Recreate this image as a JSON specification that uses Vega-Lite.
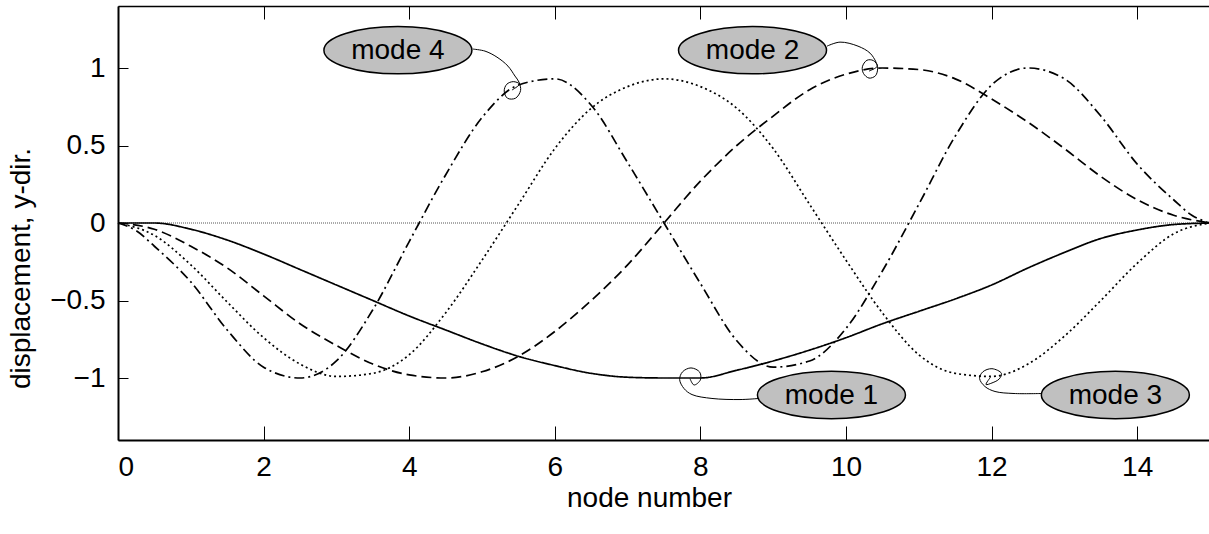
{
  "$schema": "https://vega.github.io/schema/vega-lite/v6.json",
  "width": 1092,
  "height": 434,
  "autosize": {"type": "none"},
  "padding": {"left": 118, "top": 6, "right": 0, "bottom": 94},
  "background": "white",
  "config": {
    "view": {"stroke": null},
    "font": "Liberation Sans",
    "axis": {
      "domainColor": "black",
      "domainWidth": 2,
      "tickColor": "black",
      "tickWidth": 1,
      "grid": false,
      "labelFont": "Liberation Sans",
      "labelFontSize": 28,
      "labelColor": "black",
      "titleFont": "Liberation Sans",
      "titleFontSize": 28,
      "titleFontWeight": "normal",
      "titleColor": "black"
    }
  },
  "datasets": {
    "modes": [
      {"mode": "mode 1", "node": 0, "disp": 0},
      {"mode": "mode 1", "node": 0.5, "disp": 0},
      {"mode": "mode 1", "node": 1, "disp": -0.04},
      {"mode": "mode 1", "node": 1.5, "disp": -0.11},
      {"mode": "mode 1", "node": 2, "disp": -0.20},
      {"mode": "mode 1", "node": 2.5, "disp": -0.30},
      {"mode": "mode 1", "node": 3, "disp": -0.40},
      {"mode": "mode 1", "node": 3.5, "disp": -0.50},
      {"mode": "mode 1", "node": 4, "disp": -0.60},
      {"mode": "mode 1", "node": 4.5, "disp": -0.69},
      {"mode": "mode 1", "node": 5, "disp": -0.78},
      {"mode": "mode 1", "node": 5.5, "disp": -0.86},
      {"mode": "mode 1", "node": 6, "disp": -0.92},
      {"mode": "mode 1", "node": 6.5, "disp": -0.97},
      {"mode": "mode 1", "node": 7, "disp": -0.995},
      {"mode": "mode 1", "node": 7.5, "disp": -1.0},
      {"mode": "mode 1", "node": 8, "disp": -1.0},
      {"mode": "mode 1", "node": 8.5, "disp": -0.95},
      {"mode": "mode 1", "node": 9, "disp": -0.89},
      {"mode": "mode 1", "node": 9.5, "disp": -0.82},
      {"mode": "mode 1", "node": 10, "disp": -0.74},
      {"mode": "mode 1", "node": 10.5, "disp": -0.65},
      {"mode": "mode 1", "node": 11, "disp": -0.57},
      {"mode": "mode 1", "node": 11.5, "disp": -0.49},
      {"mode": "mode 1", "node": 12, "disp": -0.40},
      {"mode": "mode 1", "node": 12.5, "disp": -0.29},
      {"mode": "mode 1", "node": 13, "disp": -0.19},
      {"mode": "mode 1", "node": 13.5, "disp": -0.10},
      {"mode": "mode 1", "node": 14, "disp": -0.045},
      {"mode": "mode 1", "node": 14.5, "disp": -0.01},
      {"mode": "mode 1", "node": 15, "disp": 0},

      {"mode": "mode 2", "node": 0, "disp": 0},
      {"mode": "mode 2", "node": 0.5, "disp": -0.04},
      {"mode": "mode 2", "node": 1, "disp": -0.15},
      {"mode": "mode 2", "node": 1.5, "disp": -0.29},
      {"mode": "mode 2", "node": 2, "disp": -0.47},
      {"mode": "mode 2", "node": 2.5, "disp": -0.65},
      {"mode": "mode 2", "node": 3, "disp": -0.79},
      {"mode": "mode 2", "node": 3.5, "disp": -0.91},
      {"mode": "mode 2", "node": 4, "disp": -0.98},
      {"mode": "mode 2", "node": 4.5, "disp": -1.0},
      {"mode": "mode 2", "node": 5, "disp": -0.96},
      {"mode": "mode 2", "node": 5.5, "disp": -0.86},
      {"mode": "mode 2", "node": 6, "disp": -0.70},
      {"mode": "mode 2", "node": 6.5, "disp": -0.50},
      {"mode": "mode 2", "node": 7, "disp": -0.27},
      {"mode": "mode 2", "node": 7.5, "disp": 0},
      {"mode": "mode 2", "node": 8, "disp": 0.27},
      {"mode": "mode 2", "node": 8.5, "disp": 0.50},
      {"mode": "mode 2", "node": 9, "disp": 0.69},
      {"mode": "mode 2", "node": 9.5, "disp": 0.86},
      {"mode": "mode 2", "node": 10, "disp": 0.96},
      {"mode": "mode 2", "node": 10.5, "disp": 1.0},
      {"mode": "mode 2", "node": 11, "disp": 0.99},
      {"mode": "mode 2", "node": 11.5, "disp": 0.93},
      {"mode": "mode 2", "node": 12, "disp": 0.80},
      {"mode": "mode 2", "node": 12.5, "disp": 0.65},
      {"mode": "mode 2", "node": 13, "disp": 0.48},
      {"mode": "mode 2", "node": 13.5, "disp": 0.30},
      {"mode": "mode 2", "node": 14, "disp": 0.15},
      {"mode": "mode 2", "node": 14.5, "disp": 0.05},
      {"mode": "mode 2", "node": 15, "disp": 0},

      {"mode": "mode 3", "node": 0, "disp": 0},
      {"mode": "mode 3", "node": 0.5, "disp": -0.08},
      {"mode": "mode 3", "node": 1, "disp": -0.27},
      {"mode": "mode 3", "node": 1.5, "disp": -0.51},
      {"mode": "mode 3", "node": 2, "disp": -0.74},
      {"mode": "mode 3", "node": 2.5, "disp": -0.91},
      {"mode": "mode 3", "node": 3, "disp": -0.99},
      {"mode": "mode 3", "node": 3.5, "disp": -0.97},
      {"mode": "mode 3", "node": 4, "disp": -0.85},
      {"mode": "mode 3", "node": 4.5, "disp": -0.58},
      {"mode": "mode 3", "node": 5, "disp": -0.24},
      {"mode": "mode 3", "node": 5.5, "disp": 0.12},
      {"mode": "mode 3", "node": 6, "disp": 0.48},
      {"mode": "mode 3", "node": 6.5, "disp": 0.74},
      {"mode": "mode 3", "node": 7, "disp": 0.88},
      {"mode": "mode 3", "node": 7.5, "disp": 0.93},
      {"mode": "mode 3", "node": 8, "disp": 0.88},
      {"mode": "mode 3", "node": 8.5, "disp": 0.74},
      {"mode": "mode 3", "node": 9, "disp": 0.48},
      {"mode": "mode 3", "node": 9.5, "disp": 0.12},
      {"mode": "mode 3", "node": 10, "disp": -0.24},
      {"mode": "mode 3", "node": 10.5, "disp": -0.58},
      {"mode": "mode 3", "node": 11, "disp": -0.85},
      {"mode": "mode 3", "node": 11.5, "disp": -0.97},
      {"mode": "mode 3", "node": 12, "disp": -0.99},
      {"mode": "mode 3", "node": 12.5, "disp": -0.91},
      {"mode": "mode 3", "node": 13, "disp": -0.73},
      {"mode": "mode 3", "node": 13.5, "disp": -0.50},
      {"mode": "mode 3", "node": 14, "disp": -0.26},
      {"mode": "mode 3", "node": 14.5, "disp": -0.07},
      {"mode": "mode 3", "node": 15, "disp": 0},

      {"mode": "mode 4", "node": 0, "disp": 0},
      {"mode": "mode 4", "node": 0.25, "disp": -0.05},
      {"mode": "mode 4", "node": 0.5, "disp": -0.15},
      {"mode": "mode 4", "node": 1, "disp": -0.38},
      {"mode": "mode 4", "node": 1.5, "disp": -0.69},
      {"mode": "mode 4", "node": 2, "disp": -0.93},
      {"mode": "mode 4", "node": 2.5, "disp": -1.0},
      {"mode": "mode 4", "node": 3, "disp": -0.89},
      {"mode": "mode 4", "node": 3.5, "disp": -0.56},
      {"mode": "mode 4", "node": 4, "disp": -0.12},
      {"mode": "mode 4", "node": 4.5, "disp": 0.31},
      {"mode": "mode 4", "node": 5, "disp": 0.68},
      {"mode": "mode 4", "node": 5.5, "disp": 0.89},
      {"mode": "mode 4", "node": 6, "disp": 0.93},
      {"mode": "mode 4", "node": 6.5, "disp": 0.76},
      {"mode": "mode 4", "node": 7, "disp": 0.39},
      {"mode": "mode 4", "node": 7.5, "disp": 0},
      {"mode": "mode 4", "node": 8, "disp": -0.39},
      {"mode": "mode 4", "node": 8.5, "disp": -0.76},
      {"mode": "mode 4", "node": 9, "disp": -0.93},
      {"mode": "mode 4", "node": 9.5, "disp": -0.89},
      {"mode": "mode 4", "node": 10, "disp": -0.68},
      {"mode": "mode 4", "node": 10.5, "disp": -0.31},
      {"mode": "mode 4", "node": 11, "disp": 0.12},
      {"mode": "mode 4", "node": 11.5, "disp": 0.56},
      {"mode": "mode 4", "node": 12, "disp": 0.89},
      {"mode": "mode 4", "node": 12.5, "disp": 1.0},
      {"mode": "mode 4", "node": 13, "disp": 0.93},
      {"mode": "mode 4", "node": 13.5, "disp": 0.69},
      {"mode": "mode 4", "node": 14, "disp": 0.38},
      {"mode": "mode 4", "node": 14.5, "disp": 0.15},
      {"mode": "mode 4", "node": 14.75, "disp": 0.05},
      {"mode": "mode 4", "node": 15, "disp": 0}
    ],
    "callouts": [
      {"label": "mode 4", "i": 0, "node": 4.876, "disp": 1.122},
      {"label": "mode 4", "i": 1, "node": 5.041, "disp": 1.109},
      {"label": "mode 4", "i": 2, "node": 5.206, "disp": 1.070},
      {"label": "mode 4", "i": 3, "node": 5.357, "disp": 1.012},
      {"label": "mode 4", "i": 4, "node": 5.453, "disp": 0.948},
      {"label": "mode 4", "i": 5, "node": 5.508, "disp": 0.909},
      {"label": "mode 4", "i": 6, "node": 5.530, "disp": 0.855},
      {"label": "mode 4", "i": 7, "node": 5.460, "disp": 0.805},
      {"label": "mode 4", "i": 8, "node": 5.350, "disp": 0.805},
      {"label": "mode 4", "i": 9, "node": 5.305, "disp": 0.851},
      {"label": "mode 4", "i": 10, "node": 5.340, "disp": 0.895},
      {"label": "mode 4", "i": 11, "node": 5.430, "disp": 0.912},
      {"label": "mode 4", "i": 12, "node": 5.515, "disp": 0.896},
      {"label": "mode 4", "i": 13, "node": 5.412, "disp": 0.858},

      {"label": "mode 2", "i": 0, "node": 9.739, "disp": 1.141},
      {"label": "mode 2", "i": 1, "node": 9.918, "disp": 1.167},
      {"label": "mode 2", "i": 2, "node": 10.165, "disp": 1.141},
      {"label": "mode 2", "i": 3, "node": 10.330, "disp": 1.096},
      {"label": "mode 2", "i": 4, "node": 10.412, "disp": 1.038},
      {"label": "mode 2", "i": 5, "node": 10.435, "disp": 0.999},
      {"label": "mode 2", "i": 6, "node": 10.405, "disp": 0.950},
      {"label": "mode 2", "i": 7, "node": 10.316, "disp": 0.935},
      {"label": "mode 2", "i": 8, "node": 10.240, "disp": 0.965},
      {"label": "mode 2", "i": 9, "node": 10.225, "disp": 1.008},
      {"label": "mode 2", "i": 10, "node": 10.288, "disp": 1.050},
      {"label": "mode 2", "i": 11, "node": 10.375, "disp": 1.048},
      {"label": "mode 2", "i": 12, "node": 10.430, "disp": 1.012},
      {"label": "mode 2", "i": 13, "node": 10.316, "disp": 0.980},

      {"label": "mode 1", "i": 0, "node": 8.805, "disp": -1.132},
      {"label": "mode 1", "i": 1, "node": 8.544, "disp": -1.139},
      {"label": "mode 1", "i": 2, "node": 8.159, "disp": -1.132},
      {"label": "mode 1", "i": 3, "node": 7.885, "disp": -1.107},
      {"label": "mode 1", "i": 4, "node": 7.775, "disp": -1.068},
      {"label": "mode 1", "i": 5, "node": 7.715, "disp": -1.010},
      {"label": "mode 1", "i": 6, "node": 7.755, "disp": -0.960},
      {"label": "mode 1", "i": 7, "node": 7.871, "disp": -0.935},
      {"label": "mode 1", "i": 8, "node": 7.990, "disp": -0.962},
      {"label": "mode 1", "i": 9, "node": 8.000, "disp": -1.012},
      {"label": "mode 1", "i": 10, "node": 7.912, "disp": -1.045},
      {"label": "mode 1", "i": 11, "node": 7.857, "disp": -1.004},

      {"label": "mode 3", "i": 0, "node": 12.692, "disp": -1.100},
      {"label": "mode 3", "i": 1, "node": 12.308, "disp": -1.100},
      {"label": "mode 3", "i": 2, "node": 12.047, "disp": -1.087},
      {"label": "mode 3", "i": 3, "node": 11.909, "disp": -1.055},
      {"label": "mode 3", "i": 4, "node": 11.835, "disp": -1.003},
      {"label": "mode 3", "i": 5, "node": 11.880, "disp": -0.960},
      {"label": "mode 3", "i": 6, "node": 12.005, "disp": -0.940},
      {"label": "mode 3", "i": 7, "node": 12.135, "disp": -0.970},
      {"label": "mode 3", "i": 8, "node": 12.105, "disp": -1.006},
      {"label": "mode 3", "i": 9, "node": 12.005, "disp": -1.032},
      {"label": "mode 3", "i": 10, "node": 11.923, "disp": -1.042},
      {"label": "mode 3", "i": 11, "node": 11.985, "disp": -0.995}
    ],
    "labels": [
      {"label": "mode 4", "node": 3.845, "disp": 1.115},
      {"label": "mode 2", "node": 8.716, "disp": 1.115},
      {"label": "mode 1", "node": 9.80, "disp": -1.110},
      {"label": "mode 3", "node": 13.70, "disp": -1.110}
    ]
  },
  "resolve": {"axis": {"x": "independent", "y": "independent"}},
  "layer": [
    {
      "data": {"values": [{"zero": 0}]},
      "mark": {"type": "rule", "stroke": "#555555", "strokeWidth": 1, "strokeDash": [1, 1]},
      "encoding": {
        "y": {"field": "zero", "type": "quantitative", "scale": {"domain": [-1.4, 1.4], "nice": false}, "axis": null}
      }
    },
    {
      "data": {"name": "modes"},
      "mark": {"type": "line", "stroke": "black", "interpolate": "monotone"},
      "encoding": {
        "x": {
          "field": "node", "type": "quantitative",
          "scale": {"domain": [0, 15], "nice": false, "zero": false},
          "axis": {
            "orient": "bottom", "values": [0, 2, 4, 6, 8, 10, 12, 14],
            "tickSize": -14, "labelPadding": 27, "title": "node number", "titlePadding": 3, "titleX": 531
          }
        },
        "y": {
          "field": "disp", "type": "quantitative",
          "scale": {"domain": [-1.4, 1.4], "nice": false},
          "axis": {
            "orient": "left", "values": [-1, -0.5, 0, 0.5, 1], "format": "~g",
            "tickSize": -10, "labelPadding": 23, "title": "displacement, y-dir.", "titlePadding": 14, "titleY": 262
          }
        },
        "strokeDash": {
          "field": "mode", "type": "nominal",
          "scale": {"domain": ["mode 1", "mode 2", "mode 3", "mode 4"], "range": [[1, 0], [10, 5], [2, 3], [10, 4, 2, 4]]},
          "legend": null
        },
        "strokeWidth": {
          "field": "mode", "type": "nominal",
          "scale": {"domain": ["mode 1", "mode 2", "mode 3", "mode 4"], "range": [1.7, 1.7, 2.2, 1.7]},
          "legend": null
        },
        "detail": {"field": "mode"}
      }
    },
    {
      "data": {"name": "callouts"},
      "mark": {"type": "line", "stroke": "black", "strokeWidth": 1, "interpolate": "catmull-rom"},
      "encoding": {
        "x": {
          "field": "node", "type": "quantitative",
          "scale": {"domain": [0, 15], "nice": false, "zero": false},
          "axis": {"orient": "top", "values": [0, 2, 4, 6, 8, 10, 12, 14], "tickSize": -13, "labels": false, "title": null, "domainWidth": 1.5}
        },
        "y": {"field": "disp", "type": "quantitative", "scale": {"domain": [-1.4, 1.4], "nice": false}, "axis": null},
        "detail": {"field": "label"},
        "order": {"field": "i", "type": "quantitative"}
      }
    },
    {
      "data": {"name": "labels"},
      "mark": {
        "type": "point", "filled": false, "size": 21904,
        "shape": "M-1,0A1,0.32,0,1,1,1,0A1,0.32,0,1,1,-1,0Z",
        "fill": "#c0c0c0", "fillOpacity": 1, "stroke": "black", "strokeWidth": 1.5, "opacity": 1
      },
      "encoding": {
        "x": {"field": "node", "type": "quantitative", "scale": {"domain": [0, 15], "nice": false, "zero": false}, "axis": null},
        "y": {"field": "disp", "type": "quantitative", "scale": {"domain": [-1.4, 1.4], "nice": false}, "axis": null}
      }
    },
    {
      "data": {"name": "labels"},
      "mark": {"type": "text", "fontSize": 28, "font": "Liberation Sans", "color": "black", "align": "center", "baseline": "middle", "dy": 1},
      "encoding": {
        "x": {"field": "node", "type": "quantitative", "scale": {"domain": [0, 15], "nice": false, "zero": false}, "axis": null},
        "y": {"field": "disp", "type": "quantitative", "scale": {"domain": [-1.4, 1.4], "nice": false}, "axis": null},
        "text": {"field": "label"}
      }
    }
  ]
}
